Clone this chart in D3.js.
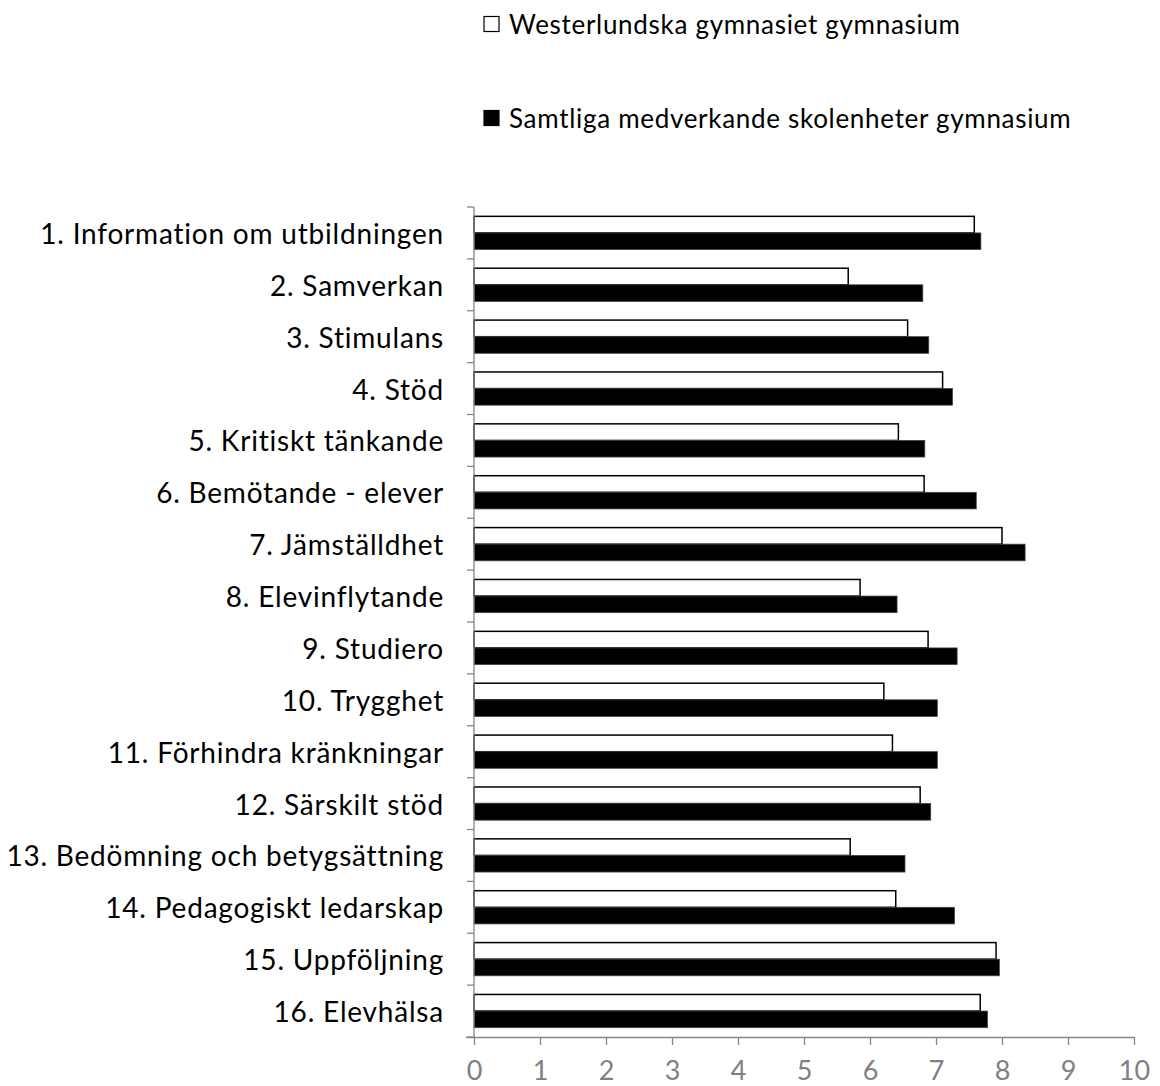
<!DOCTYPE html>
<html><head><meta charset="utf-8">
<script src="https://cdn.jsdelivr.net/npm/d3@7"></script>
<style>html,body{margin:0;padding:0;background:#fff}</style>
</head><body>
<svg id="chart" width="1160" height="1086"></svg>
<script>
const categories = [
  "1. Information om utbildningen","2. Samverkan","3. Stimulans","4. Stöd",
  "5. Kritiskt tänkande","6. Bemötande - elever","7. Jämställdhet","8. Elevinflytande",
  "9. Studiero","10. Trygghet","11. Förhindra kränkningar","12. Särskilt stöd",
  "13. Bedömning och betygsättning","14. Pedagogiskt ledarskap","15. Uppföljning","16. Elevhälsa"
];
const seriesNames = ["Westerlundska gymnasiet gymnasium","Samtliga medverkande skolenheter gymnasium"];
const westerlundska = [7.58,5.67,6.57,7.10,6.43,6.82,8.00,5.85,6.88,6.21,6.34,6.76,5.70,6.39,7.91,7.67];
const samtliga      = [7.68,6.80,6.89,7.25,6.83,7.61,8.35,6.41,7.32,7.02,7.02,6.92,6.53,7.28,7.96,7.78];
const xTicks = [0,1,2,3,4,5,6,7,8,9,10];

(function(){
const svg = d3.select("#chart");
const font = "Lato, 'Open Sans', sans-serif";
const axisColor = "#868686";
const pL = 474, pR = 1134, pT = 207, pB = 1037;

const x = d3.scaleLinear().domain([0,10]).range([pL,pR]);
const y = d3.scaleBand().domain(categories).range([pT,pB]).paddingInner(0.36).paddingOuter(0.18);
const sub = d3.scaleBand().domain([0,1]).range([0,y.bandwidth()]);

const data = categories.map((c,i)=>({c, vals:[westerlundska[i], samtliga[i]]}));

const g = svg.append("g");
data.forEach(d=>{
  d.vals.forEach((v,k)=>{
    g.append("rect")
      .attr("x", x(0))
      .attr("y", y(d.c)+sub(k))
      .attr("width", x(v)-x(0))
      .attr("height", sub.bandwidth())
      .attr("fill", k===0 ? "#fff" : "#000")
      .attr("stroke", k===0 ? "#000" : "#444")
      .attr("stroke-width", k===0 ? 1.5 : 0.8);
  });
});

const step = (pB-pT)/categories.length;
svg.append("line").attr("x1",pL).attr("x2",pL).attr("y1",pT).attr("y2",pB)
  .attr("stroke",axisColor).attr("stroke-width",1.3);
for(let i=0;i<=categories.length;i++){
  svg.append("line").attr("x1",pL-7).attr("x2",pL).attr("y1",pT+i*step).attr("y2",pT+i*step)
    .attr("stroke",axisColor).attr("stroke-width",1.3);
}
data.forEach(d=>{
  svg.append("text").attr("x",444).attr("y",y(d.c)+y.bandwidth()/2)
    .attr("text-anchor","end").attr("dominant-baseline","central")
    .attr("font-family",font).attr("font-size",28).attr("letter-spacing","0.8px")
    .attr("fill","#000").text(d.c);
});

const xAxis = d3.axisBottom(x).tickValues(xTicks).tickSize(8).tickPadding(16).tickFormat(d3.format("d"));
const xg = svg.append("g").attr("transform",`translate(0,${pB})`).call(xAxis);
xg.select(".domain").attr("stroke",axisColor).attr("stroke-width",1.3).attr("d",`M${pL-8},0.5H${pR}`);
xg.selectAll(".tick line").attr("stroke",axisColor).attr("stroke-width",1.3);
xg.selectAll(".tick text").attr("fill","#808080").attr("font-family",font).attr("font-size",27);

const legendY = [24,118];
seriesNames.forEach((n,k)=>{
  svg.append("rect").attr("x",484).attr("y",legendY[k]-7.5).attr("width",15).attr("height",15)
    .attr("fill",k===0?"#fff":"#000").attr("stroke","#000").attr("stroke-width",1.2);
  svg.append("text").attr("x",509).attr("y",legendY[k]).attr("dominant-baseline","central")
    .attr("font-family",font).attr("font-size",26).attr("letter-spacing","0.7px")
    .attr("fill","#000").text(n);
});
})();
</script>
</body></html>
